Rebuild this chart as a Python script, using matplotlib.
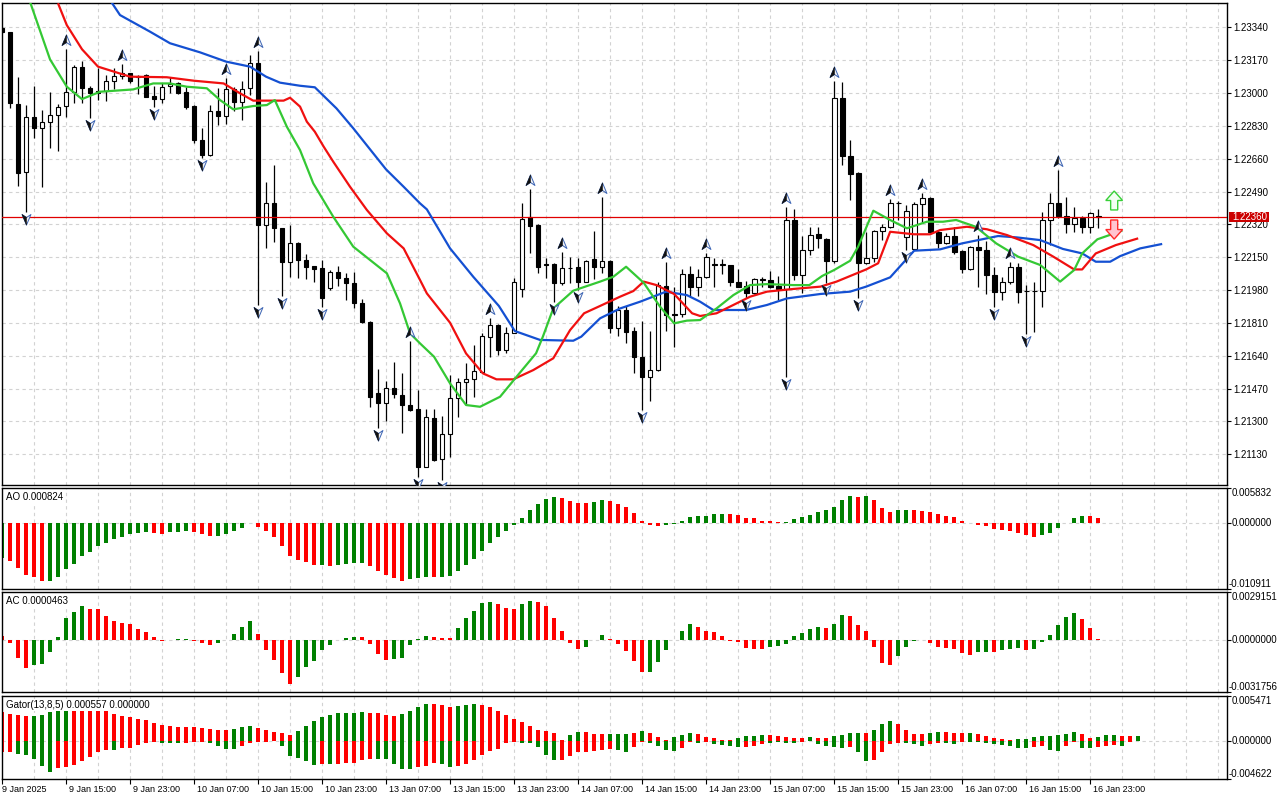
import numpy as np
import matplotlib
matplotlib.use("Agg")
import matplotlib.pyplot as plt
import matplotlib.transforms as mtransforms
from matplotlib.path import Path
from matplotlib.patches import Polygon, Rectangle

plt.rcParams['font.family'] = ['Liberation Sans', 'DejaVu Sans']
FS = 7
FS_TIME = 6.5

# ---------------- H1 candles, 9 Jan 07:00 .. 16 Jan 23:00 ----------------
OPEN = [1.23335, 1.23315, 1.22942, 1.22590, 1.22874, 1.22818, 1.22849, 1.22885, 1.22931, 1.23004,
        1.23133, 1.23025, 1.23011, 1.23011, 1.23061, 1.23087, 1.23102, 1.23088, 1.23092, 1.22983,
        1.22968, 1.23037, 1.23050, 1.23004, 1.22931, 1.22755, 1.22678, 1.22906, 1.22880, 1.23019,
        1.22952, 1.23025, 1.23154, 1.22315, 1.22429, 1.22300, 1.22124, 1.22222, 1.22134, 1.22103,
        1.22093, 1.21989, 1.22072, 1.22043, 1.22015, 1.21911, 1.21816, 1.21445, 1.21394, 1.21471,
        1.21437, 1.21385, 1.21362, 1.21066, 1.21316, 1.21104, 1.21233, 1.21419, 1.21506, 1.21518,
        1.21558, 1.21739, 1.21799, 1.21670, 1.21760, 1.21984, 1.22360, 1.22317, 1.22115, 1.22113,
        1.22018, 1.22096, 1.22101, 1.22024, 1.22141, 1.22101, 1.22132, 1.21782, 1.21877, 1.21768,
        1.21635, 1.21532, 1.21566, 1.22001, 1.21856, 1.21854, 1.22062, 1.21994, 1.22046, 1.22113,
        1.22110, 1.22108, 1.22024, 1.22001, 1.21963, 1.22036, 1.22032, 1.22001, 1.21984, 1.22343,
        1.22058, 1.22188, 1.22269, 1.22245, 1.22132, 1.22973, 1.22674, 1.22585, 1.22119, 1.22144,
        1.22288, 1.22308, 1.22433, 1.22257, 1.22193, 1.22426, 1.22455, 1.22282, 1.22226, 1.22260,
        1.22182, 1.22087, 1.22205, 1.22187, 1.22058, 1.21972, 1.22024, 1.22098, 1.21975, 1.21975,
        1.21977, 1.22343, 1.22429, 1.22365, 1.22320, 1.22352, 1.22305, 1.22364]
HIGH = [1.23344, 1.23318, 1.23082, 1.22937, 1.23035, 1.22911, 1.23004, 1.22942, 1.23227, 1.23145,
        1.23164, 1.23035, 1.23128, 1.23092, 1.23128, 1.23149, 1.23106, 1.23095, 1.23099, 1.23037,
        1.23050, 1.23082, 1.23059, 1.23030, 1.22937, 1.22818, 1.22937, 1.23025, 1.23076, 1.23030,
        1.23061, 1.23196, 1.23216, 1.22538, 1.22626, 1.22303, 1.22315, 1.22227, 1.22165, 1.22106,
        1.22136, 1.22082, 1.22103, 1.22067, 1.22072, 1.21932, 1.21822, 1.21570, 1.21509, 1.21606,
        1.21549, 1.21718, 1.21463, 1.21366, 1.21366, 1.21328, 1.21540, 1.21526, 1.21601, 1.21696,
        1.21756, 1.21834, 1.21804, 1.21791, 1.22041, 1.22429, 1.22502, 1.22320, 1.22148, 1.22118,
        1.22177, 1.22153, 1.22144, 1.22136, 1.22286, 1.22460, 1.22136, 1.21898, 1.21898, 1.21791,
        1.21822, 1.21770, 1.22024, 1.22124, 1.21998, 1.22087, 1.22105, 1.22087, 1.22170, 1.22146,
        1.22139, 1.22111, 1.22087, 1.22029, 1.22044, 1.22046, 1.22081, 1.22053, 1.22412, 1.22398,
        1.22262, 1.22308, 1.22308, 1.22251, 1.23063, 1.23056, 1.22757, 1.22590, 1.22282, 1.22291,
        1.22322, 1.22452, 1.22441, 1.22420, 1.22438, 1.22484, 1.22460, 1.22291, 1.22274, 1.22308,
        1.22187, 1.22208, 1.22265, 1.22236, 1.22101, 1.22049, 1.22127, 1.22119, 1.22006, 1.22024,
        1.22386, 1.22484, 1.22602, 1.22460, 1.22408, 1.22364, 1.22386, 1.22400]
LOW = [1.23309, 1.22921, 1.22521, 1.22383, 1.22769, 1.22515, 1.22717, 1.22702, 1.22874, 1.22947,
       1.22947, 1.22869, 1.22964, 1.22961, 1.23023, 1.23071, 1.23050, 1.22993, 1.22978, 1.22930,
       1.22950, 1.22999, 1.22997, 1.22916, 1.22740, 1.22662, 1.22674, 1.22833, 1.22838, 1.22906,
       1.22859, 1.22990, 1.21903, 1.22196, 1.22227, 1.21949, 1.22046, 1.22041, 1.22036, 1.22020,
       1.21891, 1.21979, 1.22003, 1.21929, 1.21885, 1.21808, 1.21376, 1.21264, 1.21304, 1.21419,
       1.21238, 1.21356, 1.21014, 1.21062, 1.21095, 1.20997, 1.21117, 1.21325, 1.21385, 1.21428,
       1.21554, 1.21635, 1.21644, 1.21656, 1.21756, 1.21946, 1.22170, 1.22070, 1.22044, 1.21920,
       1.22005, 1.22015, 1.21980, 1.22020, 1.22036, 1.22070, 1.21760, 1.21742, 1.21704, 1.21552,
       1.21359, 1.21407, 1.21563, 1.21770, 1.21684, 1.21842, 1.21949, 1.21949, 1.22041, 1.21998,
       1.22063, 1.22001, 1.21994, 1.21937, 1.21958, 1.21998, 1.21989, 1.21929, 1.21532, 1.22032,
       1.21963, 1.22162, 1.22196, 1.22015, 1.22119, 1.22628, 1.22446, 1.21937, 1.22116, 1.22127,
       1.22239, 1.22300, 1.22343, 1.22187, 1.22190, 1.22326, 1.22274, 1.22196, 1.22217, 1.22167,
       1.22067, 1.22084, 1.21998, 1.21960, 1.21894, 1.21929, 1.22011, 1.21911, 1.21751, 1.21765,
       1.21891, 1.22213, 1.22352, 1.22274, 1.22282, 1.22277, 1.22274, 1.22300]
CLOSE = [1.23315, 1.22947, 1.22585, 1.22874, 1.22818, 1.22849, 1.22885, 1.22930, 1.23004, 1.23133,
         1.23025, 1.22999, 1.23002, 1.23061, 1.23087, 1.23102, 1.23064, 1.23085, 1.22981, 1.22968,
         1.23030, 1.23047, 1.23002, 1.22930, 1.22755, 1.22678, 1.22906, 1.22880, 1.23019, 1.22952,
         1.23019, 1.23154, 1.22315, 1.22429, 1.22300, 1.22124, 1.22222, 1.22134, 1.22101, 1.22087,
         1.21937, 1.22072, 1.22041, 1.22015, 1.21911, 1.21813, 1.21428, 1.21394, 1.21471, 1.21440,
         1.21383, 1.21359, 1.21066, 1.21321, 1.21100, 1.21233, 1.21419, 1.21506, 1.21520, 1.21561,
         1.21742, 1.21799, 1.21670, 1.21760, 1.22024, 1.22346, 1.22314, 1.22101, 1.22110, 1.22018,
         1.22093, 1.22094, 1.22024, 1.22132, 1.22101, 1.22132, 1.21782, 1.21877, 1.21765, 1.21635,
         1.21532, 1.21566, 1.22006, 1.21851, 1.21851, 1.22062, 1.21994, 1.22046, 1.22150, 1.22110,
         1.22113, 1.22024, 1.21998, 1.21963, 1.22036, 1.22032, 1.21998, 1.21984, 1.22343, 1.22058,
         1.22188, 1.22265, 1.22248, 1.22132, 1.22973, 1.22674, 1.22579, 1.22119, 1.22144, 1.22288,
         1.22308, 1.22429, 1.22431, 1.22389, 1.22424, 1.22455, 1.22282, 1.22226, 1.22260, 1.22179,
         1.22087, 1.22201, 1.22187, 1.22058, 1.21972, 1.22024, 1.22098, 1.21972, 1.21974, 1.21977,
         1.22343, 1.22429, 1.22364, 1.22320, 1.22352, 1.22305, 1.22377, 1.22360]

LAST_PRICE = 1.22360

# Bill Williams fractals (bar numbers)
FRACTAL_UP = [8, 15, 28, 32, 51, 61, 66, 70, 75, 83, 88, 98, 104, 111, 115, 122, 126, 132]
FRACTAL_DOWN = [3, 11, 19, 25, 32, 35, 40, 47, 52, 55, 69, 72, 80, 93, 98, 103, 107, 113, 124, 128]

# Alligator lines (bar position, price)
JAW_X = [13.5, 14.75, 18.5, 21, 24.75, 28, 31, 33, 34.75, 37.25, 39.1, 41.8, 43.9, 46.4, 48, 50.2,
         52.25, 53.1, 56, 58.9, 62.1, 64.1, 67.25, 71.4, 72.4, 74.75, 77.25, 79.75, 83, 85.6, 87.25,
         88.9, 93, 95.6, 98.1, 102.3, 106, 108, 111, 114, 117.25, 120, 124.5, 126.8, 129.75, 132.6,
         135, 136.7, 138.5, 139.75, 142.25, 145]
JAW_Y = [1.23482, 1.23404, 1.23318, 1.23258, 1.23211, 1.23163, 1.23137, 1.23085, 1.23054, 1.23038,
         1.23030, 1.22921, 1.22818, 1.22688, 1.22605, 1.22515, 1.22429, 1.22398, 1.22196, 1.22049,
         1.21898, 1.21768, 1.21722, 1.21718, 1.21739, 1.21834, 1.21885, 1.21920, 1.21972, 1.21954,
         1.21920, 1.21877, 1.21877, 1.21903, 1.21937, 1.21960, 1.21972, 1.21998, 1.22046, 1.22184,
         1.22191, 1.22222, 1.22260, 1.22253, 1.22239, 1.22193, 1.22170, 1.22127, 1.22127, 1.22156,
         1.22196, 1.22219]
TEETH_X = [7, 8.1, 10, 12, 16, 20.6, 24, 27.7, 29.75, 31.4, 35.2, 36, 37.25, 38.1, 39.1, 40.2, 41.4,
           43.5, 45.6, 48.1, 50.2, 52.25, 53.1, 56, 58, 60.1, 61.8, 63.9, 66.4, 68.9, 71, 72.75,
           74.75, 77.25, 78.9, 80.2, 81.8, 84, 86.25, 87.25, 89.3, 91.4, 93.5, 95.6, 98.9, 102.3,
           104.3, 108, 109.5, 111, 114, 116, 117.25, 120.6, 123.1, 125.6, 128.9, 131.4, 134, 135,
           136.7, 139.2, 142]
TEETH_Y = [1.23465, 1.23352, 1.23227, 1.23137, 1.23085, 1.23082, 1.23064, 1.23050, 1.22999, 1.22961,
           1.22961, 1.22976, 1.22930, 1.22852, 1.22800, 1.22723, 1.22645, 1.22515, 1.22395, 1.22274,
           1.22196, 1.22032, 1.21963, 1.21811, 1.21652, 1.21549, 1.21518, 1.21518, 1.21566, 1.21627,
           1.21773, 1.21860, 1.21898, 1.21946, 1.21975, 1.22024, 1.22006, 1.21960, 1.21860, 1.21846,
           1.21860, 1.21903, 1.21946, 1.21972, 1.21986, 1.21998, 1.22024, 1.22087, 1.22119, 1.22282,
           1.22269, 1.22269, 1.22291, 1.22308, 1.22295, 1.22265, 1.22213, 1.22153, 1.22087, 1.22087,
           1.22170, 1.22213, 1.22248]
LIPS_X = [3.5, 6, 8.1, 10, 12.25, 16.4, 18.9, 21, 23.1, 25.6, 27.25, 28.9, 31.4, 33.1, 34.1, 35.6,
          37.25, 38.9, 41.4, 43.9, 48.1, 49.75, 51, 52.25, 54, 56, 58, 59.75, 62.25, 65, 66.75, 67.6,
          68.9, 71.4, 74.75, 76.4, 78, 80.2, 82.25, 84, 85.6, 87.25, 89.3, 91.4, 93.5, 95.6, 98.9,
          100.9, 102.5, 104, 106, 107, 108.9, 111, 113.1, 115.6, 117.6, 119.25, 121.7, 124.25, 127,
          129.75, 131, 132.25, 134, 135, 136.9, 140]
LIPS_Y = [1.23473, 1.23175, 1.23033, 1.22969, 1.23007, 1.23019, 1.23050, 1.23050, 1.23033, 1.23025,
          1.22964, 1.22916, 1.22933, 1.22938, 1.22964, 1.22826, 1.22705, 1.22533, 1.22360, 1.22205,
          1.22067, 1.21911, 1.21756, 1.21704, 1.21635, 1.21497, 1.21385, 1.21376, 1.21428, 1.21566,
          1.21653, 1.21739, 1.21885, 1.21977, 1.22024, 1.22049, 1.22101, 1.22018, 1.21894, 1.21808,
          1.21822, 1.21825, 1.21885, 1.21954, 1.22006, 1.22011, 1.22006, 1.22006, 1.22053, 1.22084,
          1.22132, 1.22205, 1.22391, 1.22343, 1.22300, 1.22334, 1.22334, 1.22343, 1.22308, 1.22222,
          1.22153, 1.22110, 1.22067, 1.22024, 1.22084, 1.22170, 1.22243, 1.22288]

# signal arrows at the right end (bar, tail price, tip price)
SIGNAL_BAR = 139
BUY_ARROW = (1.22395, 1.22493)
SELL_ARROW = (1.22343, 1.22244)

# ---------------- Awesome Oscillator ----------------
AO = [-0.00579, -0.00623, -0.00738, -0.00854, -0.00887, -0.00953, -0.00953, -0.00882, -0.00749, -0.00672,
      -0.00540, -0.00474, -0.00375, -0.00325, -0.00270, -0.00226, -0.00176, -0.00171, -0.00154, -0.00156,
      -0.00176, -0.00154, -0.00150, -0.00138, -0.00154, -0.00176, -0.00209, -0.00207, -0.00187, -0.00138,
      -0.00077, -0.00006, -0.00061, -0.00138, -0.00226, -0.00375, -0.00540, -0.00606, -0.00639, -0.00689,
      -0.00686, -0.00705, -0.00689, -0.00672, -0.00656, -0.00655, -0.00705, -0.00788, -0.00854, -0.00904,
      -0.00953, -0.00920, -0.00904, -0.00887, -0.00888, -0.00886, -0.00871, -0.00788, -0.00689, -0.00590,
      -0.00457, -0.00325, -0.00226, -0.00138, -0.00039, 0.00088, 0.00220, 0.00320, 0.00402, 0.00435,
      0.00419, 0.00369, 0.00336, 0.00335, 0.00353, 0.00386, 0.00369, 0.00320, 0.00270, 0.00171,
      0.00039, -0.00033, -0.00055, -0.00033, -0.00022, 0.00039, 0.00105, 0.00121, 0.00122, 0.00154,
      0.00155, 0.00153, 0.00138, 0.00088, 0.00077, 0.00039, 0.00038, 0.00017, 0.00022, 0.00061,
      0.00094, 0.00127, 0.00176, 0.00209, 0.00270, 0.00386, 0.00452, 0.00435, 0.00453, 0.00386,
      0.00253, 0.00187, 0.00209, 0.00210, 0.00208, 0.00207, 0.00187, 0.00154, 0.00121, 0.00105,
      0.00039, -0.00006, -0.00028, -0.00055, -0.00105, -0.00121, -0.00138, -0.00171, -0.00204, -0.00237,
      -0.00204, -0.00171, -0.00088, -0.00006, 0.00088, 0.00121, 0.00118, 0.000824]
AO_COLORS = ("grrrrrgggg" "gggggggggr" "rgggrrrggg" "ggrrrrrrrr" "grggggrrrr" "rgggrggggg" "gggggggggg"
             "rrrrggrrrr" "rrrggggggg" "grrrrrrrgg" "gggggggrgr" "rrggrrrrrr" "rrrrrrrrrr" "ggggggrr")

# ---------------- Accelerator Oscillator ----------------
AC = [0.00024, -0.00020, -0.00108, -0.00168, -0.00150, -0.00144, -0.00075, 0.00020, 0.00136, 0.00173,
      0.00209, 0.00191, 0.00190, 0.00148, 0.00118, 0.00106, 0.00099, 0.00069, 0.00047, 0.00020,
      -0.00004, 0.00002, 0.00008, 0.00009, -0.00004, -0.00020, -0.00032, -0.00020, -0.00001, 0.00039,
      0.00081, 0.00118, 0.00039, -0.00057, -0.00118, -0.00203, -0.00266, -0.00227, -0.00162, -0.00124,
      -0.00057, -0.00032, -0.00002, 0.00014, 0.00020, 0.00019, -0.00026, -0.00087, -0.00118, -0.00117,
      -0.00106, -0.00032, 0.00008, 0.00026, 0.00020, 0.00014, 0.00013, 0.00075, 0.00136, 0.00179,
      0.00227, 0.00233, 0.00223, 0.00197, 0.00191, 0.00221, 0.00240, 0.00233, 0.00209, 0.00136,
      0.00057, -0.00020, -0.00053, -0.00041, 0.00001, 0.00032, 0.00006, -0.00026, -0.00063, -0.00126,
      -0.00193, -0.00192, -0.00130, -0.00057, 0.00002, 0.00057, 0.00099, 0.00081, 0.00057, 0.00051,
      0.00026, -0.00004, -0.00010, -0.00047, -0.00053, -0.00054, -0.00041, -0.00035, -0.00022, 0.00026,
      0.00045, 0.00069, 0.00081, 0.00075, 0.00099, 0.00154, 0.00148, 0.00093, 0.00057, -0.00041,
      -0.00138, -0.00150, -0.00095, -0.00041, -0.00008, -0.00002, -0.00016, -0.00041, -0.00047, -0.00053,
      -0.00077, -0.00089, -0.00075, -0.00071, -0.00072, -0.00059, -0.00053, -0.00047, -0.00059, -0.00053,
      -0.00012, 0.00032, 0.00093, 0.00142, 0.00166, 0.00130, 0.00075, 0.0000463]
AC_COLORS = ("rrrrgggggg" "grrrrrrrrr" "rgggrrrggg" "ggrrrrrggg" "gggggrrrrg" "ggggrrrggg" "ggrrrggrrr"
             "rrrgggrrrr" "rggggggrrr" "rrrrrrgggg" "gggrggrrrr" "rrgggrrrrr" "rrggrgggrg" "gggggrrr")

# ---------------- Gator Oscillator (13,8,5) ----------------
GATOR_UP = [0.00347, 0.00327, 0.00315, 0.00303, 0.00307, 0.00319, 0.00351, 0.00376, 0.00377, 0.00375,
            0.00374, 0.00373, 0.00372, 0.00370, 0.00327, 0.00303, 0.00291, 0.00267, 0.00255, 0.00218,
            0.00194, 0.00186, 0.00170, 0.00169, 0.00168, 0.00158, 0.00145, 0.00133, 0.00132, 0.00145,
            0.00170, 0.00182, 0.00158, 0.00133, 0.00109, 0.00097, 0.00073, 0.00121, 0.00186, 0.00242,
            0.00291, 0.00315, 0.00339, 0.00340, 0.00341, 0.00351, 0.00339, 0.00338, 0.00315, 0.00307,
            0.00327, 0.00364, 0.00412, 0.00448, 0.00447, 0.00436, 0.00412, 0.00424, 0.00436, 0.00448,
            0.00436, 0.00412, 0.00364, 0.00315, 0.00267, 0.00230, 0.00182, 0.00133, 0.00121, 0.00097,
            0.00012, 0.00073, 0.00109, 0.00108, 0.00085, 0.00084, 0.00085, 0.00086, 0.00087, 0.00097,
            0.00121, 0.00097, 0.00048, 0.00012, 0.00048, 0.00073, 0.00097, 0.00085, 0.00048, 0.00036,
            0.00012, 0.00012, 0.00036, 0.00061, 0.00061, 0.00073, 0.00072, 0.00061, 0.00048, 0.00036,
            0.00035, 0.00048, 0.00036, 0.00035, 0.00061, 0.00073, 0.00097, 0.00098, 0.00096, 0.00133,
            0.00206, 0.00242, 0.00206, 0.00133, 0.00085, 0.00084, 0.00097, 0.00109, 0.00108, 0.00097,
            0.00096, 0.00097, 0.00085, 0.00061, 0.00036, 0.00024, 0.00012, 0.00024, 0.00025, 0.00048,
            0.00061, 0.00062, 0.00073, 0.00085, 0.00109, 0.00085, 0.00036, 0.00048, 0.00073, 0.00074,
            0.00061, 0.00060, 0.000557]
GATOR_DN = [-0.00129, -0.00129, -0.00154, -0.00166, -0.00214, -0.00299, -0.00372, -0.00323, -0.00311, -0.00287,
            -0.00250, -0.00190, -0.00129, -0.00105, -0.00106, -0.00089, -0.00081, -0.00048, -0.00020, -0.00019,
            -0.00021, -0.00022, -0.00032, -0.00020, -0.00019, -0.00018, -0.00020, -0.00057, -0.00093, -0.00094,
            -0.00057, -0.00020, -0.00019, -0.00008, -0.00007, -0.00057, -0.00178, -0.00202, -0.00250, -0.00287,
            -0.00275, -0.00276, -0.00275, -0.00274, -0.00263, -0.00238, -0.00214, -0.00215, -0.00216, -0.00275,
            -0.00335, -0.00347, -0.00311, -0.00299, -0.00263, -0.00275, -0.00311, -0.00299, -0.00275, -0.00238,
            -0.00166, -0.00117, -0.00093, -0.00020, -0.00008, -0.00020, -0.00032, -0.00069, -0.00166, -0.00238,
            -0.00226, -0.00178, -0.00141, -0.00129, -0.00117, -0.00105, -0.00093, -0.00105, -0.00129, -0.00069,
            -0.00008, -0.00020, -0.00057, -0.00105, -0.00117, -0.00081, -0.00008, -0.00020, -0.00019, -0.00044,
            -0.00045, -0.00057, -0.00069, -0.00069, -0.00057, -0.00044, -0.00020, -0.00008, -0.00020, -0.00021,
            -0.00008, -0.00007, -0.00044, -0.00057, -0.00069, -0.00081, -0.00069, -0.00129, -0.00250, -0.00238,
            -0.00129, -0.00044, -0.00020, -0.00021, -0.00044, -0.00057, -0.00044, -0.00020, -0.00032, -0.00044,
            -0.00008, -0.00009, -0.00010, -0.00032, -0.00044, -0.00045, -0.00057, -0.00081, -0.00082, -0.00069,
            -0.00068, -0.00105, -0.00117, -0.00057, -0.00008, -0.00081, -0.00082, -0.00069, -0.00057, -0.00056,
            -0.00057, -0.00008, 0.0]
GATOR_UP_COLORS = ("rrrrgggggr" "rrrrrrrrrr" "rrrrrrrrrg" "ggrrrrrggg" "ggggggrrrr" "ggggrrrggg"
                   "rrrrrrrrrr" "rggrrrgggr" "grrrgggrrr" "rrggggrrrr" "rgrrggggrg" "ggrrrrggrr"
                   "rgrrrrrggg" "gggggrrggg" "rrg")
GATOR_DN_COLORS = ("rrgggggrrr" "rrrrgrrrrr" "gggrrrgggg" "rrrrrggggg" "rgrrrrrggg" "ggrrrggrrr"
                   "rrrrrggggg" "rrrrrrrggr" "rggggrrgrg" "gggrrrgggg" "rrggggrggr" "rrrgggrrgg"
                   "rggggggggr" "rggrrggrrr" "grr")

# axis texts
PRICE_TICKS = [1.23340, 1.23170, 1.23000, 1.22830, 1.22660, 1.22490, 1.22320,
               1.22150, 1.21980, 1.21810, 1.21640, 1.21470, 1.21300, 1.21130]
PRICE_RANGE = (1.20971, 1.23468)
AO_RANGE = (-0.010911, 0.005832)
AC_RANGE = (-0.0031756, 0.0029151)
GATOR_RANGE = (-0.004622, 0.005471)
AO_LABELS = ("0.005832", "0.000000", "-0.010911")
AC_LABELS = ("0.0029151", "0.0000000", "-0.0031756")
GATOR_LABELS = ("0.005471", "0.000000", "-0.004622")
TIME_TICKS = list(range(0, 137, 8))
TIME_LABELS = ["9 Jan 2025", "9 Jan 15:00", "9 Jan 23:00", "10 Jan 07:00", "10 Jan 15:00",
               "10 Jan 23:00", "13 Jan 07:00", "13 Jan 15:00", "13 Jan 23:00", "14 Jan 07:00",
               "14 Jan 15:00", "14 Jan 23:00", "15 Jan 07:00", "15 Jan 15:00", "15 Jan 23:00",
               "16 Jan 07:00", "16 Jan 15:00", "16 Jan 23:00"]

GREEN = '#008000'
RED = '#ff0000'
GRID = '#d2d2d2'
COL = {'g': GREEN, 'r': RED}
X_LEFT, X_RIGHT = 0.04, 153.1


# ---------------- figure & panels ----------------
fig = plt.figure(figsize=(12.8, 8), dpi=100)
fig.patch.set_facecolor('white')


def panel(x0, y0, x1, y1):
    # pixel box -> figure fraction
    return fig.add_axes([x0 / 1280, 1 - y1 / 800, (x1 - x0) / 1280, (y1 - y0) / 800])


ax = panel(2.3, 2.7, 1227, 485)
ax_ao = panel(2.3, 487.7, 1227, 589.3)
ax_ac = panel(2.3, 592.3, 1227, 692.3)
ax_gt = panel(2.3, 695.7, 1227, 779)

for a in (ax, ax_ao, ax_ac, ax_gt):
    a.set_facecolor('white')
    a.set_xlim(X_LEFT, X_RIGHT)
    for s in a.spines.values():
        s.set_color('black')
        s.set_linewidth(1.0)
    a.tick_params(axis='x', bottom=False, labelbottom=False)
    a.yaxis.tick_right()
    a.tick_params(axis='y', right=True, left=False, direction='out', length=3,
                  width=0.8, pad=1.2, labelsize=FS, colors='black')
    for gx in range(4, 153, 4):
        a.axvline(gx, color=GRID, lw=0.8, ls=(0, (3, 3)), zorder=0)

# ---------------- main price panel ----------------
o = np.array(OPEN)
h = np.array(HIGH)
l = np.array(LOW)
c = np.array(CLOSE)
idx = np.arange(len(o))
bull = c >= o

ax.set_ylim(*PRICE_RANGE)
ax.set_yticks(PRICE_TICKS)
ax.set_yticklabels([f"{v:.5f}" for v in PRICE_TICKS])
for p in PRICE_TICKS:
    ax.axhline(p, color=GRID, lw=0.8, ls=(0, (3, 3)), zorder=0)

ax.vlines(idx, l, h, color='black', lw=0.9, zorder=2)
ax.bar(idx, np.abs(c - o), bottom=np.minimum(o, c), width=0.6,
       color=np.where(bull, 'white', 'black'), edgecolor='black', linewidth=0.8, zorder=3)

ax.axhline(LAST_PRICE, color='#e00000', lw=0.9, zorder=3.5)

ax.plot(JAW_X, JAW_Y, color='#1450d2', lw=1.6, zorder=4, solid_capstyle='butt')
ax.plot(TEETH_X, TEETH_Y, color='#f01010', lw=1.6, zorder=4.1, solid_capstyle='butt')
ax.plot(LIPS_X, LIPS_Y, color='#34c834', lw=1.6, zorder=4.2, solid_capstyle='butt')

# fractal arrowheads: light right half with blue rim, dark left half
codes4 = [Path.MOVETO, Path.LINETO, Path.LINETO, Path.LINETO, Path.CLOSEPOLY]
codes3 = [Path.MOVETO, Path.LINETO, Path.LINETO, Path.CLOSEPOLY]
up_full = Path([(0, 1), (0.8, -0.9), (0, -0.35), (-0.8, -0.9), (0, 1)], codes4)
up_half = Path([(0, 1), (-0.8, -0.9), (0, -0.35), (0, 1)], codes3)
dn_full = Path([(0, -1), (0.8, 0.9), (0, 0.35), (-0.8, 0.9), (0, -1)], codes4)
dn_half = Path([(0, -1), (-0.8, 0.9), (0, 0.35), (0, -1)], codes3)
up_tr = mtransforms.offset_copy(ax.transData, fig=fig, x=0, y=9, units='dots')
dn_tr = mtransforms.offset_copy(ax.transData, fig=fig, x=0, y=-7, units='dots')
for pts, vals, full, half, tr in ((FRACTAL_UP, h, up_full, up_half, up_tr),
                                  (FRACTAL_DOWN, l, dn_full, dn_half, dn_tr)):
    ax.plot(pts, vals[pts], ls='none', marker=full, ms=8, mfc='#f4f4f4',
            mec='#3c64b4', mew=0.7, transform=tr, zorder=5)
    ax.plot(pts, vals[pts], ls='none', marker=half, ms=8, mfc='#101010',
            mec='#101010', mew=0.4, transform=tr, zorder=5.1)


def block_arrow(cx, tail, tip, half_w=1.05):
    mid = tail + 0.5 * (tip - tail)
    sw = half_w * 0.42
    return [(cx - sw, tail), (cx + sw, tail), (cx + sw, mid), (cx + half_w, mid),
            (cx, tip), (cx - half_w, mid), (cx - sw, mid)]


ax.add_patch(Polygon(block_arrow(SIGNAL_BAR, *BUY_ARROW), closed=True,
                     fc='#f2fff2', ec='#38d038', lw=1.0, zorder=6))
ax.add_patch(Polygon(block_arrow(SIGNAL_BAR, *SELL_ARROW), closed=True,
                     fc='#ffc4d0', ec='#ff2a2a', lw=1.0, zorder=6))

# current price tag on the price scale
blend = mtransforms.blended_transform_factory(ax.transAxes, ax.transData)
px_price = (PRICE_RANGE[1] - PRICE_RANGE[0]) / (485 - 2.7)
ax.add_patch(Rectangle((1.0016, LAST_PRICE - 4.8 * px_price), 40 / 1225, 9.6 * px_price,
                       transform=blend, fc='#cc0000', ec='none', zorder=9, clip_on=False))
ax.text(1.0045, LAST_PRICE, f"{LAST_PRICE:.5f}", transform=blend, ha='left', va='center',
        color='white', fontsize=FS, zorder=10, clip_on=False)


# ---------------- indicator panels ----------------
def indicator_axis(a, rng, labels, title):
    a.set_ylim(*rng)
    a.set_yticks([rng[1], 0.0, rng[0]])
    a.set_yticklabels([])
    a.axhline(0, color=GRID, lw=0.8, ls=(0, (3, 3)), zorder=1)
    tr = mtransforms.blended_transform_factory(a.transAxes, a.transData)
    a.text(1.0035, rng[1], labels[0], transform=tr, ha='left', va='top', fontsize=FS, clip_on=False)
    a.text(1.0035, 0.0, labels[1], transform=tr, ha='left', va='center', fontsize=FS, clip_on=False)
    a.text(1.0015, rng[0], labels[2], transform=tr, ha='left', va='bottom', fontsize=FS, clip_on=False)
    a.text(0.003, 1 - 9 / (a.get_position().height * 800), title, transform=a.transAxes,
           ha='left', va='center', fontsize=FS, zorder=10,
           bbox=dict(boxstyle='square,pad=0.1', fc='white', ec='none'))


ax_ao.bar(np.arange(len(AO)), AO, width=0.5, color=[COL[k] for k in AO_COLORS], zorder=2)
indicator_axis(ax_ao, AO_RANGE, AO_LABELS, f"AO {AO[-1]:.6f}")

ax_ac.bar(np.arange(len(AC)), AC, width=0.5, color=[COL[k] for k in AC_COLORS], zorder=2)
indicator_axis(ax_ac, AC_RANGE, AC_LABELS, f"AC {AC[-1]:.7f}")

gx = np.arange(len(GATOR_UP))
ax_gt.bar(gx, GATOR_UP, width=0.5, color=[COL[k] for k in GATOR_UP_COLORS], zorder=2)
ax_gt.bar(gx, GATOR_DN, width=0.5, color=[COL[k] for k in GATOR_DN_COLORS], zorder=2)
indicator_axis(ax_gt, GATOR_RANGE, GATOR_LABELS,
               f"Gator(13,8,5) {GATOR_UP[-1]:.6f} {abs(GATOR_DN[-1]):.6f}")

# time axis under the last panel
ax_gt.set_xticks(TIME_TICKS)
ax_gt.tick_params(axis='x', bottom=True, labelbottom=False, direction='out', length=3.5, width=0.8)
ttr = mtransforms.blended_transform_factory(ax_gt.transData, ax_gt.transAxes)
for k, (t, lab) in enumerate(zip(TIME_TICKS, TIME_LABELS)):
    ax_gt.text(t + (0.0 if k == 0 else 0.3), -0.075, lab, transform=ttr, ha='left', va='top',
               fontsize=FS_TIME, clip_on=False)

fig.savefig("out.png", dpi=100, facecolor='white')
